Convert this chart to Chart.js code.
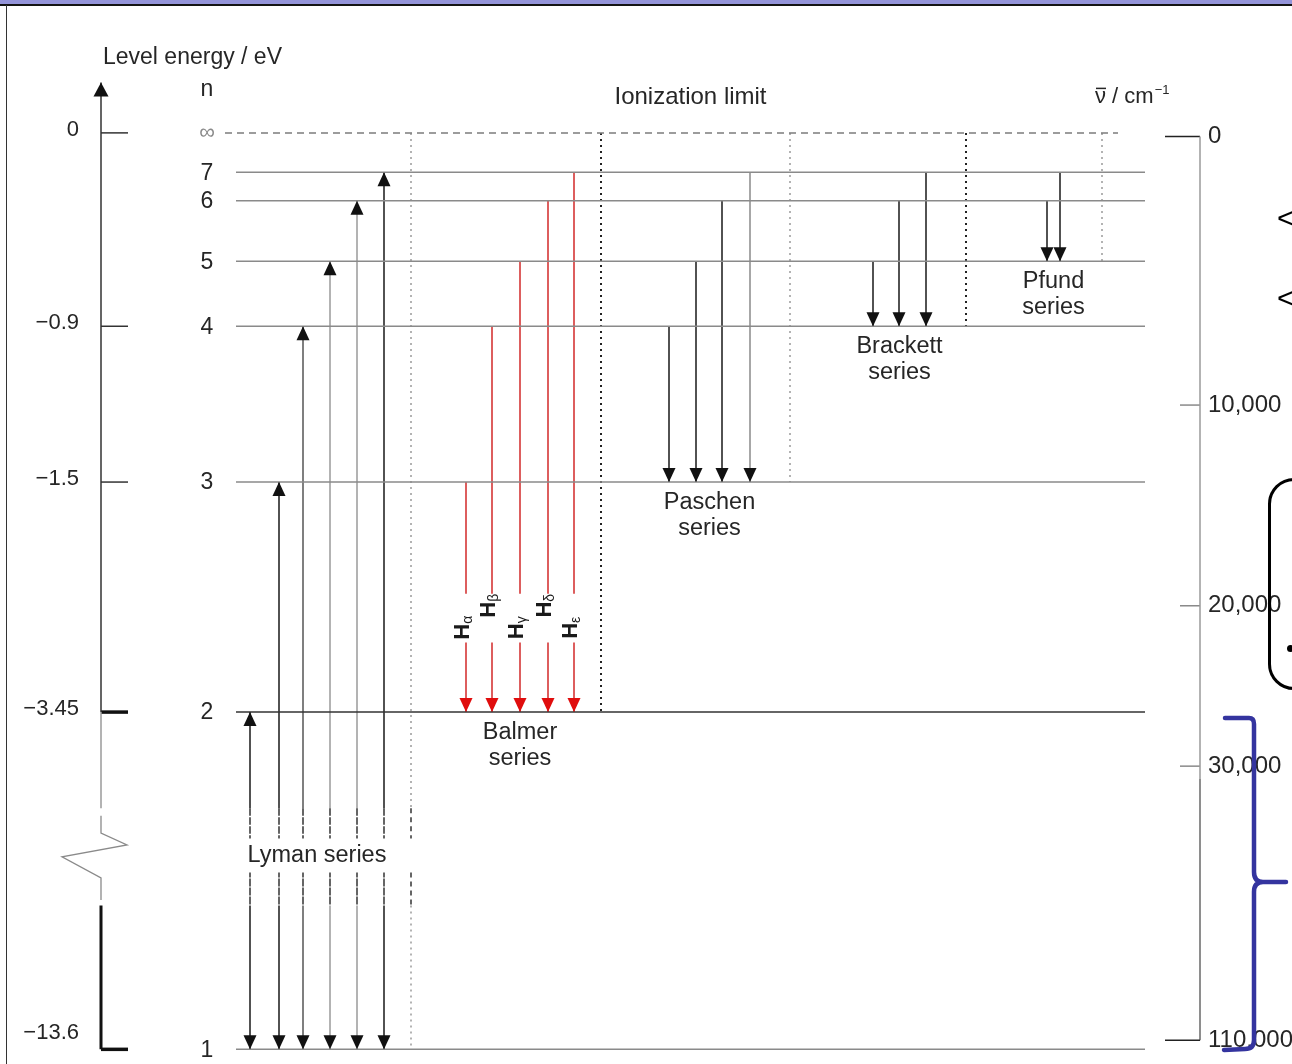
<!DOCTYPE html>
<html>
<head>
<meta charset="utf-8">
<title>Hydrogen energy levels</title>
<script src="https://cdn.jsdelivr.net/npm/chart.js@4.4.1/dist/chart.umd.min.js"></script>
<style>
  html, body { margin: 0; padding: 0; background: #fff; }
  #wrap { position: relative; width: 1292px; height: 1064px; overflow: hidden; background: #fff; }
  #wrap canvas { position: absolute; left: 0; top: 0; }
  .band { position: absolute; left: 0; top: 0; width: 1292px; height: 4px; background: #9494d9; }
  .rule { position: absolute; left: 0; top: 4px; width: 1292px; height: 2px; background: #141414; }
  .edge { position: absolute; left: 6px; top: 5px; width: 1px; height: 1059px; background: #333; }
  .lt { position: absolute; left: 1277px; font: 30px "Liberation Sans", Arial, sans-serif; line-height: 1; color: #000; }
  .box { position: absolute; left: 1268px; top: 478px; width: 120px; height: 206px; border: 3.5px solid #000; border-radius: 26px; }
  .dot { position: absolute; left: 1287px; top: 645px; width: 7px; height: 7px; border-radius: 50%; background: #000; }
  svg.brace { position: absolute; left: 0; top: 0; }
</style>
</head>
<body>
<div id="wrap">
  <canvas id="levels"></canvas>
  <div class="band"></div>
  <div class="rule"></div>
  <div class="edge"></div>
  <div class="lt" style="top:203px">&lt;</div>
  <div class="lt" style="top:283px">&lt;</div>
  <div class="box"></div>
  <div class="dot"></div>
  <svg class="brace" width="1292" height="1064">
    <path d="M1225 718 L1249 718 Q1254 718 1254 724 L1254 872 Q1254 882 1263 882 L1286 882 M1263 882 Q1254 882 1254 892 L1254 1040 Q1254 1049 1245 1049 L1224 1050"
          fill="none" stroke="#34349f" stroke-width="4.5" stroke-linecap="round" stroke-linejoin="round"/>
  </svg>
</div>
<script>
// Hydrogen atom energy levels (schematic, broken axis)

// levels and the height at which the diagram draws them
const levelN = ['1', '2', '3', '4', '5', '6', '7', '∞'];
const levelHeight = [0, 36.8, 61.9, 78.9, 86.0, 92.6, 95.7, 100];

// left axis: level energy / eV
const energyTicks = ['0', '−0.9', '−1.5', '−3.45', '−13.6'];
const energyTickLevel = ['∞', '4', '3', '2', '1'];

// right axis: wavenumber / cm-1
const waveTicks = ['0', '10,000', '20,000', '30,000', '110,000'];
const waveTickHeight = [99.6, 70.3, 48.4, 30.9, 1.0];

// transitions of each series: column and upper level
const lymanX = [250, 279, 303, 330, 357, 384];
const lymanUpper = ['2', '3', '4', '5', '6', '7'];
const balmerX = [466, 492, 520, 548, 574];
const balmerUpper = ['3', '4', '5', '6', '7'];
const balmerNames = ['α', 'β', 'γ', 'δ', 'ε'];
const paschenX = [669, 696, 722, 750];
const paschenUpper = ['4', '5', '6', '7'];
const brackettX = [873, 899, 926];
const brackettUpper = ['5', '6', '7'];
const pfundX = [1047, 1060];
const pfundUpper = ['6', '7'];

const seriesNames = ['Lyman series', 'Balmer\nseries', 'Paschen\nseries', 'Brackett\nseries', 'Pfund\nseries'];
const seriesLower = ['1', '2', '3', '4', '5'];
const seriesLimitX = [411, 601, 790, 966, 1102];

const FONT = '"Liberation Sans", Arial, Helvetica, sans-serif';
const INK = '#262626';
const LINE_LEFT = 236, LINE_RIGHT = 1145;
const AXIS_X = 101, WAVE_X = 1200, LABEL_X = 207;
const BREAK = [26.3, 23.0, 19.3, 15.7];   // dashed band where the energy axis is broken
const BALMER_GAP = [49.7, 44.4];          // room left for the H labels

function lvl(n) {
    return levelHeight[levelN.indexOf(n)];
}

function seg(points, style) {
    return Object.assign({
        data: points,
        showLine: true,
        pointRadius: 0,
        pointHoverRadius: 0,
        borderWidth: 1.5,
        borderColor: '#222',
        fill: false,
        tension: 0,
        clip: false,
        spanGaps: false,
        xAxisID: 'x',
        yAxisID: 'y'
    }, style);
}

function column(x, heights) {
    return heights.map(y => ({ x: x, y: y }));
}

// line that runs through the axis break, dashed inside it
function brokenColumn(x, top, style) {
    const dashed = c => c.p0DataIndex === 1 || c.p0DataIndex === 4;
    return seg(column(x, [top, BREAK[0], BREAK[1], null, BREAK[2], BREAK[3], 0]), Object.assign({
        segment: {
            borderDash: c => dashed(c) ? [5, 4] : undefined,
            borderColor: c => dashed(c) ? '#333' : undefined
        }
    }, style));
}

const datasets = [];

// level lines
levelN.forEach((n, i) => {
    const h = levelHeight[i];
    if (n === '∞') {
        datasets.push(seg([{ x: 225, y: h }, { x: 1118, y: h }], { borderColor: '#7c7c7c', borderDash: [7, 5] }));
    } else {
        datasets.push(seg([{ x: LINE_LEFT, y: h }, { x: LINE_RIGHT, y: h }], {
            borderColor: n === '2' ? '#333' : '#8a8a8a'
        }));
    }
});

// series limits (dotted)
seriesLimitX.forEach((x, i) => {
    const dark = i % 2 === 1;
    const style = { borderDash: [2, 4], borderColor: dark ? '#222' : '#9a9a9a', borderWidth: dark ? 2 : 1.5 };
    if (i === 0) datasets.push(brokenColumn(x, 100, style));
    else datasets.push(seg(column(x, [100, lvl(seriesLower[i])]), style));
});

// Lyman series (both directions)
const lymanInk = ['#1a1a1a', '#1a1a1a', '#555', '#9a9a9a', '#9a9a9a', '#1a1a1a'];
lymanX.forEach((x, i) => {
    datasets.push(brokenColumn(x, lvl(lymanUpper[i]), { borderColor: lymanInk[i], heads: ['start', 'end'] }));
});

// Balmer series (visible, red)
balmerX.forEach((x, i) => {
    datasets.push(seg(column(x, [lvl(balmerUpper[i]), BALMER_GAP[0], null, BALMER_GAP[1], lvl('2')]), {
        borderColor: '#d22a2a', heads: ['end'], headColor: '#e00d0d'
    }));
});

// Paschen, Brackett, Pfund
function cascade(xs, uppers, lower, greyLast) {
    xs.forEach((x, i) => {
        const grey = greyLast && i === xs.length - 1;
        datasets.push(seg(column(x, [lvl(uppers[i]), lvl(lower)]), {
            borderColor: grey ? '#8a8a8a' : '#1a1a1a', heads: ['end'], headColor: '#111'
        }));
    });
}
cascade(paschenX, paschenUpper, '3', true);
cascade(brackettX, brackettUpper, '4', false);
cascade(pfundX, pfundUpper, '5', false);

// energy axis with its break
datasets.push(seg(column(AXIS_X, [105.5, lvl('2')]), { borderColor: '#333', heads: ['start'], headW: 7.5 }));
datasets.push(seg(column(AXIS_X, [lvl('2'), BREAK[0]]), { borderColor: '#9a9a9a' }));
datasets.push(seg([
    { x: AXIS_X, y: 25.5 }, { x: AXIS_X, y: 23.6 }, { x: 127, y: 22.3 },
    { x: 62, y: 21.0 }, { x: AXIS_X, y: 18.7 }, { x: AXIS_X, y: 16.3 }
], { borderColor: '#8a8a8a', borderWidth: 1.3 }));
datasets.push(seg(column(AXIS_X, [BREAK[3], 0]), { borderColor: '#111', borderWidth: 3 }));
energyTickLevel.forEach(n => {
    const heavy = n === '1' || n === '2';
    datasets.push(seg([{ x: AXIS_X, y: lvl(n) }, { x: AXIS_X + 27, y: lvl(n) }], {
        borderColor: heavy ? '#111' : '#333', borderWidth: heavy ? 3.5 : 1.5
    }));
});

// wavenumber axis
datasets.push(seg(column(WAVE_X, [waveTickHeight[0], 29.5]), { borderColor: '#9a9a9a' }));
datasets.push(seg(column(WAVE_X, [29.5, waveTickHeight[4]]), { borderColor: '#444', borderWidth: 1.2 }));
waveTickHeight.forEach((h, i) => {
    const end = i === 0 || i === waveTickHeight.length - 1;
    datasets.push(seg([{ x: WAVE_X - (end ? 35 : 20), y: h }, { x: WAVE_X, y: h }], {
        borderColor: end ? '#222' : '#8a8a8a'
    }));
});

// arrow heads at line ends
const arrowHeads = {
    id: 'arrowHeads',
    afterDatasetsDraw(chart) {
        const ctx = chart.ctx;
        chart.data.datasets.forEach((ds, i) => {
            if (!ds.heads) return;
            const pts = chart.getDatasetMeta(i).data.filter(p => !p.skip);
            ds.heads.forEach(end => {
                const tip = end === 'start' ? pts[0] : pts[pts.length - 1];
                const prev = end === 'start' ? pts[1] : pts[pts.length - 2];
                const dir = tip.y < prev.y ? -1 : 1;
                const w = ds.headW || 6.5, l = 14;
                ctx.save();
                ctx.fillStyle = ds.headColor || '#111';
                ctx.beginPath();
                ctx.moveTo(tip.x, tip.y);
                ctx.lineTo(tip.x - w, tip.y - dir * l);
                ctx.lineTo(tip.x + w, tip.y - dir * l);
                ctx.closePath();
                ctx.fill();
                ctx.restore();
            });
        });
    }
};

// titles, level numbers and series names
const diagramText = {
    id: 'diagramText',
    afterDraw(chart) {
        const ctx = chart.ctx;
        const px = v => chart.scales.x.getPixelForValue(v);
        const py = v => chart.scales.y.getPixelForValue(v);
        const text = (s, x, y, size, align, color) => {
            ctx.font = size + 'px ' + FONT;
            ctx.textAlign = align || 'center';
            ctx.textBaseline = 'middle';
            ctx.fillStyle = color || INK;
            ctx.fillText(s, x, y);
        };
        ctx.save();

        text('Level energy / eV', px(AXIS_X + 2), py(108.2), 23, 'left');
        text('n', px(LABEL_X), py(104.7), 23);
        levelN.forEach((n, i) => {
            if (n === '∞') text(n, px(LABEL_X), py(levelHeight[i]), 22, 'center', '#8a8a8a');
            else text(n, px(LABEL_X), py(levelHeight[i]) + 1, 23);
        });
        text('Ionization limit', px((LINE_LEFT + LINE_RIGHT) / 2), py(103.9), 24);

        // wavenumber unit, nu with an overbar
        ctx.font = '22px ' + FONT;
        ctx.textAlign = 'left';
        ctx.textBaseline = 'alphabetic';
        ctx.fillStyle = INK;
        const ux = px(1095), uy = py(103.3);
        const wNu = ctx.measureText('ν').width;
        ctx.fillText('ν', ux, uy);
        ctx.fillRect(ux + 1, uy - 15, wNu - 1, 1.5);
        ctx.fillText(' / cm', ux + wNu, uy);
        const wCm = ctx.measureText(' / cm').width;
        ctx.font = '13px ' + FONT;
        ctx.fillText('−1', ux + wNu + wCm + 1, uy - 9);

        // series names under their lower level
        const cols = [lymanX, balmerX, paschenX, brackettX, pfundX];
        seriesNames.forEach((name, i) => {
            const xs = cols[i];
            const cx = px((Math.min(...xs) + Math.max(...xs)) / 2);
            if (i === 0) {
                text(name, cx, py((BREAK[1] + BREAK[2]) / 2), 23.5);
                return;
            }
            const y0 = py(lvl(seriesLower[i])) + 20;
            name.split('\n').forEach((line, k) => text(line, cx, y0 + k * 26, 23.5));
        });

        // Balmer line names, rotated
        balmerX.forEach((x, i) => {
            ctx.save();
            ctx.translate(px(x) - 5, py(i % 2 ? 48.4 : 46.0));
            ctx.rotate(-Math.PI / 2);
            ctx.fillStyle = '#1a1a1a';
            ctx.textAlign = 'left';
            ctx.textBaseline = 'alphabetic';
            ctx.font = 'bold 22px ' + FONT;
            const wH = ctx.measureText('H').width;
            ctx.font = '14px ' + FONT;
            const wS = ctx.measureText(balmerNames[i]).width;
            const x0 = -(wH + wS) / 2;
            ctx.font = 'bold 22px ' + FONT;
            ctx.fillText('H', x0, 8);
            ctx.font = '14px ' + FONT;
            ctx.fillText(balmerNames[i], x0 + wH, 11);
            ctx.restore();
        });

        ctx.restore();
    }
};

function fixedWidth(w) {
    return scale => {
        scale.width = w;
        scale.paddingTop = 0;
        scale.paddingBottom = 0;
    };
}

new Chart(document.getElementById('levels'), {
    type: 'scatter',
    data: { datasets: datasets },
    options: {
        responsive: true,
        maintainAspectRatio: false,
        animation: false,
        events: [],
        layout: { padding: 0, autoPadding: false },
        plugins: {
            legend: { display: false },
            tooltip: { enabled: false }
        },
        scales: {
            x: { type: 'linear', min: 90, max: 1200, display: false },
            y: {
                type: 'linear',
                position: 'left',
                min: -1.6,
                max: 114.5,
                afterBuildTicks: s => { s.ticks = energyTickLevel.map(n => ({ value: lvl(n) })); },
                afterFit: fixedWidth(90),
                grid: { display: false, drawTicks: false },
                border: { display: false },
                ticks: {
                    autoSkip: false,
                    padding: 11,
                    labelOffset: -3,
                    color: INK,
                    font: { family: FONT, size: 22 },
                    callback: (v, i) => i === energyTicks.length - 1 ? [energyTicks[i], ''] : energyTicks[i]
                }
            },
            yR: {
                type: 'linear',
                position: 'right',
                min: -1.6,
                max: 114.5,
                afterBuildTicks: s => { s.ticks = waveTickHeight.map(h => ({ value: h })); },
                afterFit: fixedWidth(92),
                grid: { display: false, drawTicks: false },
                border: { display: false },
                ticks: {
                    autoSkip: false,
                    padding: 8,
                    color: INK,
                    font: { family: FONT, size: 24 },
                    callback: (v, i) => waveTicks[i]
                }
            }
        }
    },
    plugins: [arrowHeads, diagramText]
});
</script>
</body>
</html>
